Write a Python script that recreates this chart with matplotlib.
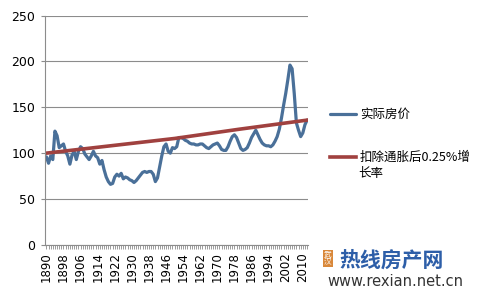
import numpy as np
import matplotlib
matplotlib.use('Agg')
import matplotlib.pyplot as plt
from matplotlib.ticker import MultipleLocator

plt.rcParams['font.family'] = ['DejaVu Sans', 'Noto Sans CJK SC']

years = np.arange(1890, 2013)
price = [96, 89, 97, 93, 124, 119, 106, 108, 110, 102,
         97, 88, 98, 102, 93, 102, 107, 105, 99, 96,
         93, 97, 102, 97, 95, 88, 92, 82, 74, 69,
         66, 67, 74, 77, 75, 78, 72, 74, 73, 71,
         70, 68, 70, 73, 76, 79, 80, 79, 80, 80,
         77, 69, 73, 85, 97, 107, 110, 102, 100, 106,
         105, 107, 117, 117, 116, 114, 113, 111, 110, 110,
         109, 109, 110, 110, 108, 106, 105, 107, 109, 110,
         111, 108, 104, 103, 103, 107, 113, 118, 120, 117,
         111, 105, 103, 104, 106, 111, 117, 121, 125, 120,
         115, 111, 109, 108, 108, 107, 109, 113, 118, 126,
         138, 152, 165, 180, 196, 192, 165, 133, 125, 118,
         122, 131, 136]

# trend line
trend_years = [1890, 1920, 1950, 1980, 2012]
trend_vals = [100, 108, 116, 126, 136]

label_years = list(range(1890, 2011, 8))
blue = '#4a7099'
red = '#a0413f'
cjk = ['Noto Sans CJK SC', 'DejaVu Sans']

fig = plt.figure(figsize=(4.88, 2.99), dpi=100)
ax = fig.add_axes([0.092, 0.181, 0.539, 0.767])

ax.plot(years, price, color=blue, lw=2.3, label='实际房价', solid_capstyle='round')
ax.plot(trend_years, trend_vals, color=red, lw=2.6, label='扣除通胀后0.25%增')

ax.set_ylim(0, 250)
ax.set_xlim(1889.3, 2012.4)
ax.set_yticks([0, 50, 100, 150, 200, 250])
ax.yaxis.grid(True, color='#8c8c8c', lw=0.8)
ax.set_axisbelow(True)

ax.set_xticks(label_years)
ax.set_xticklabels([str(y) for y in label_years], rotation=90)
ax.xaxis.set_minor_locator(MultipleLocator(1))
ax.tick_params(axis='x', which='both', length=3, width=0.6, color='#8c8c8c', labelsize=8.5, pad=2)
ax.tick_params(axis='y', length=3, width=0.8, color='#8c8c8c', labelsize=9, pad=4)

for s in ['top', 'right']:
    ax.spines[s].set_visible(False)
for s in ['left', 'bottom']:
    ax.spines[s].set_color('#8c8c8c')
    ax.spines[s].set_linewidth(0.8)

leg = ax.legend(loc='upper left', bbox_to_anchor=(1.04, 0.645), frameon=False,
                handlelength=2.1, handletextpad=0.3, labelspacing=2.4,
                prop={'family': cjk, 'size': 9})
# wrapped second line of the legend label
fig.text(0.734, 0.421, '长率', family=cjk, fontsize=9, ha='left', va='center')

# watermark
fig.text(0.672, 0.135, '武\n汉', family='Noto Sans CJK SC', fontsize=5.5, color='white',
         ha='center', va='center', linespacing=1.0,
         bbox=dict(boxstyle='square,pad=0.1', fc='#d9883a', ec='none'))
fig.text(0.695, 0.13, '热线房产网', family='Noto Sans CJK SC', fontsize=15, fontweight='bold',
         color='#2d5ea8', ha='left', va='center')
fig.text(0.67, 0.057, 'www.rexian.net.cn', fontsize=10.5, color='#333333', ha='left', va='center')

fig.savefig('out.png', dpi=100)
